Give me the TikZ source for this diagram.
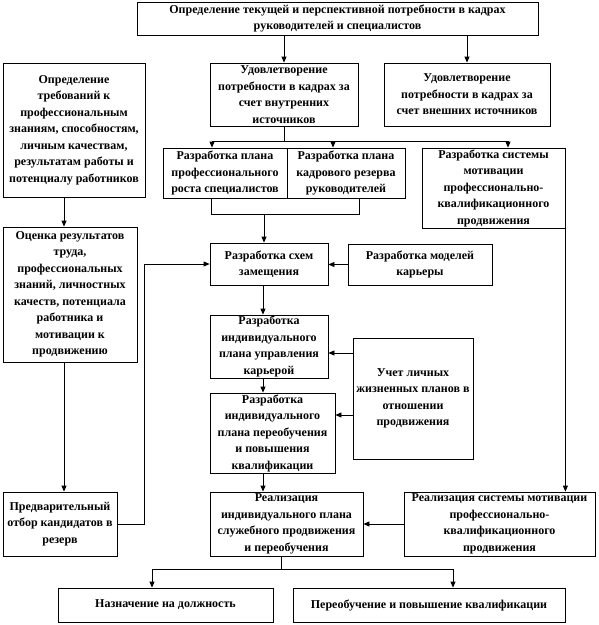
\documentclass[tikz,border=0pt]{standalone}
\usepackage{fontspec}
\setmainfont{Liberation Serif}
\usetikzlibrary{arrows.meta}
\tikzset{
  box/.style={draw, line width=0.8pt, align=center, inner sep=1pt,
    font=\bfseries\fontsize{12}{16.5}\selectfont},
  arr/.style={line width=0.8pt, -{Triangle[length=6pt,width=5pt]}},
  ln/.style={line width=0.8pt}
}
\begin{document}
\begin{tikzpicture}[x=1pt,y=-1pt]
\useasboundingbox (0,0) rectangle (599,625);
\node[box, minimum width=401, minimum height=33] (top) at (337.5,18.5) {Определение текущей и перспективной потребности в кадрах\\руководителей и специалистов};
\node[box, minimum width=142, minimum height=134] (L1) at (74,130) {Определение\\требований к\\профессиональным\\знаниям, способностям,\\личным качествам,\\результатам работы и\\потенциалу работников};
\node[box, minimum width=148, minimum height=63] (M1) at (284,94.5) {Удовлетворение\\потребности в кадрах за\\счет внутренних\\источников};
\node[box, minimum width=166, minimum height=63] (R1) at (467,94.5) {Удовлетворение\\потребности в кадрах за\\счет внешних  источников};
\node[box, minimum width=124, minimum height=50] (P1) at (225,173) {Разработка плана\\профессионального\\роста специалистов};
\node[box, minimum width=118, minimum height=50] (P2) at (346,173) {Разработка плана\\кадрового резерва\\руководителей};
\node[box, minimum width=143, minimum height=80] (P3) at (493.5,188) {Разработка системы\\мотивации\\профессионально-\\квалификационного\\продвижения};
\node[box, minimum width=134, minimum height=135] (L2) at (70,294.5) {Оценка результатов\\труда,\\профессиональных\\знаний, личностных\\качеств, потенциала\\работника и\\мотивации к\\продвижению};
\node[box, minimum width=118, minimum height=42] (S) at (269,264) {Разработка схем\\замещения};
\node[box, minimum width=144, minimum height=41] (K) at (420,264.5) {Разработка моделей\\карьеры};
\node[box, minimum width=118, minimum height=63] (U1) at (269,346.5) {Разработка\\индивидуального\\плана управления\\карьерой};
\node[box, minimum width=120, minimum height=121] (Uch) at (413,398.5) {Учет личных\\жизненных  планов в\\отношении\\продвижения};
\node[box, minimum width=125, minimum height=80] (U2) at (272.5,433) {Разработка\\индивидуального\\плана переобучения\\и повышения\\квалификации};
\node[box, minimum width=114, minimum height=64] (Pr) at (60,524) {Предварительный\\отбор кандидатов  в\\резерв};
\node[box, minimum width=153, minimum height=64] (R) at (286.5,524) {Реализация\\индивидуального  плана\\служебного продвижения\\и переобучения};
\node[box, minimum width=191, minimum height=64] (RS) at (499.5,524) {Реализация  системы мотивации\\профессионально-\\квалификационного\\продвижения};
\node[box, minimum width=215, minimum height=34] (N) at (165.5,605) {Назначение на должность};
\node[box, minimum width=272, minimum height=34] (Pe) at (429,605) {Переобучение и повышение квалификации};
% connectors
\draw[arr] (top.south -| M1.north) -- (M1.north);
\draw[arr] (top.south -| R1.north) -- (R1.north);
\coordinate (lx) at (64,0);
\draw[arr] (lx |- L1.south) -- (lx |- L2.north);
\draw[arr] (lx |- L2.south) -- (lx |- Pr.north);
\coordinate (b1) at (212,141);
\coordinate (b2) at (333,141);
\coordinate (b3) at (508,141);
\draw[ln] (M1.south) -- (M1.south |- b1);
\draw[ln] (b1) -- (b3);
\draw[arr] (b1) -- (b1 |- P1.north);
\draw[arr] (b2) -- (b2 |- P2.north);
\draw[arr] (b3) -- (b3 |- P3.north);
\coordinate (j1) at (211,214);
\coordinate (j2) at (359,214);
\coordinate (j3) at (264,214);
\draw[ln] (j1 |- P1.south) -- (j1) -- (j2) -- (j2 |- P2.south);
\draw[arr] (j3) -- (j3 |- S.north);
\draw[arr] (P3.south east) -- (P3.south east |- RS.north);
\draw[arr] (K.west) -- (K.west -| S.east);
\coordinate (px) at (144,0);
\draw[arr] (Pr.east) -- (Pr.east -| px) -- (px |- S.west) -- (S.west);
\coordinate (cx) at (263,0);
\draw[arr] (cx |- S.south) -- (cx |- U1.north);
\draw[arr] (cx |- U1.south) -- (cx |- U2.north);
\draw[arr] (cx |- U2.south) -- (cx |- R.north);
\coordinate (q1) at (0,353);
\coordinate (q2) at (0,415);
\draw[arr] (Uch.west |- q1) -- (U1.east |- q1);
\draw[arr] (Uch.west |- q2) -- (U2.east |- q2);
\draw[arr] (RS.west) -- (RS.west -| R.east);
\coordinate (d1) at (281,569);
\coordinate (dn) at (152,569);
\coordinate (dp) at (453,569);
\draw[ln] (R.south -| d1) -- (d1);
\draw[ln] (dn) -- (dp);
\draw[arr] (dn) -- (dn |- N.north);
\draw[arr] (dp) -- (dp |- Pe.north);
\end{tikzpicture}
\end{document}
